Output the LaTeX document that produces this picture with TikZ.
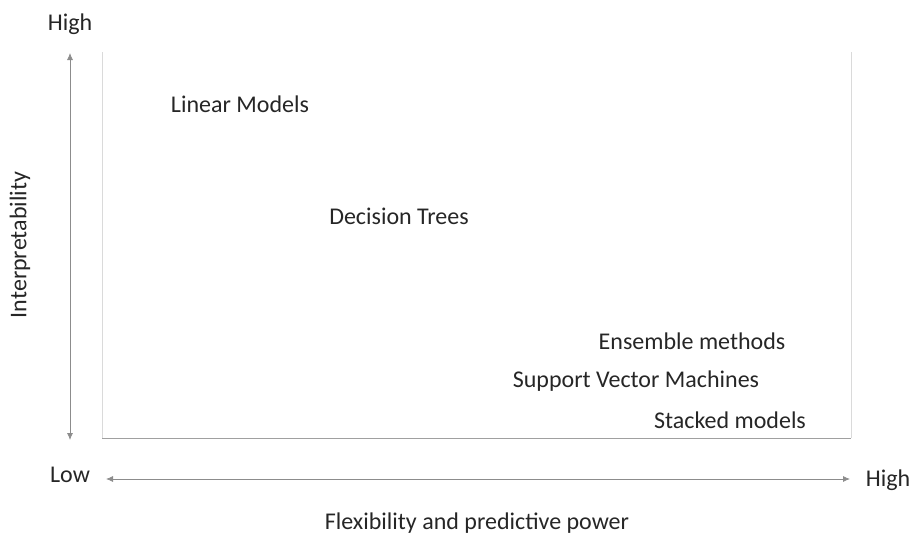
\documentclass[tikz,border=0pt]{standalone}
\usepackage{fontspec}
\setmainfont{Carlito}
\usetikzlibrary{arrows.meta}

\definecolor{axisgray}{HTML}{8C8C8C}
\definecolor{framegray}{HTML}{DADADA}
\definecolor{basegray}{HTML}{A0A0A0}
\definecolor{txt}{HTML}{262626}

\tikzset{
    lbl/.style={text=txt, font=\fontsize{24}{28}\selectfont, inner sep=0pt},
    axis/.style={draw=axisgray, line width=0.8pt, {Latex[length=7pt,width=6pt]}-{Latex[length=7pt,width=6pt]}},
}

\begin{document}
\begin{tikzpicture}[x=1pt, y=-1pt]
            \useasboundingbox (0, 0) rectangle (921, 538);
            % frame of the plot area
            \draw[draw=framegray, line width=0.8pt] (102, 438) -- (102, 52);
            \draw[draw=framegray, line width=0.8pt] (851, 438) -- (851, 52);
            \draw[draw=basegray, line width=0.9pt] (102, 438) -- (851, 438);
            % axes
            \coordinate (ytop) at (70, 53);
            \coordinate (ybot) at (70, 440);
            \coordinate (xleft) at (106, 479);
            \coordinate (xright) at (850, 479);
            \draw[axis] (ybot) -- (ytop);
            \draw[axis] (xleft) -- (xright);
            \node[lbl] (yhigh) at (70, 24) {High};
            \node[lbl] (ylow) at (70, 475) {Low};
            \node[lbl] (xhigh) at (888, 480) {High};
            \node[lbl] (xtitle) at (477, 523) {Flexibility and predictive power};
            \node[lbl, rotate=90] (ytitle) at (20, 245) {Interpretability};
            % models
            \node[lbl] (linear) at (240, 104) {Linear Models};
            \node[lbl] (trees) at (399, 216) {Decision Trees};
            \node[lbl] (ensemble) at (692, 341) {Ensemble methods};
            \node[lbl] (svm) at (636, 381) {Support Vector Machines};
            \node[lbl] (stacked) at (730, 420) {Stacked models};
        \end{tikzpicture}
\end{document}
